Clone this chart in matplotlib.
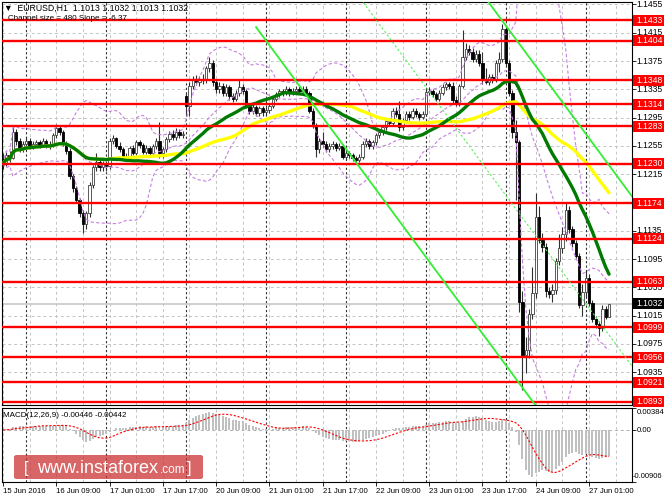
import numpy as np
import pandas as pd
import matplotlib
matplotlib.use('Agg')
import matplotlib.pyplot as plt
from matplotlib.patches import Rectangle, FancyBboxPatch

plt.rcParams['font.family'] = ['Liberation Sans', 'DejaVu Sans']

# EURUSD H1 candles, 15 Jun 17:00 .. 27 Jun 07:00
opens = [1.1236, 1.1230, 1.1242, 1.1238, 1.1275, 1.1262, 1.1250, 1.1258, 1.1262, 1.1255,
         1.1258, 1.1260, 1.1257, 1.1262, 1.1258, 1.1255, 1.1270, 1.1280, 1.1274, 1.1258,
         1.1248, 1.1212, 1.1195, 1.1178, 1.1160, 1.1145, 1.1160, 1.1200, 1.1225, 1.1232,
         1.1225, 1.1230, 1.1226, 1.1262, 1.1266, 1.1255, 1.1250, 1.1240, 1.1238, 1.1252,
         1.1245, 1.1260, 1.1256, 1.1247, 1.1252, 1.1245, 1.1255, 1.1262, 1.1245, 1.1250,
         1.1265, 1.1272, 1.1268, 1.1275, 1.1270, 1.1325, 1.1312, 1.1340, 1.1350, 1.1345,
         1.1350, 1.1348, 1.1365, 1.1372, 1.1345, 1.1335, 1.1340, 1.1330, 1.1338, 1.1325,
         1.1322, 1.1330, 1.1338, 1.1332, 1.1312, 1.1305, 1.1310, 1.1302, 1.1308, 1.1303,
         1.1306, 1.1312, 1.1322, 1.1328, 1.1332, 1.1330, 1.1335, 1.1330, 1.1333, 1.1336,
         1.1332, 1.1336, 1.1330, 1.1305, 1.1285, 1.1250, 1.1262, 1.1258, 1.1250, 1.1255,
         1.1258, 1.1252, 1.1255, 1.1240, 1.1245, 1.1242, 1.1238, 1.1235, 1.1240, 1.1258,
         1.1262, 1.1255, 1.1260, 1.1270, 1.1275, 1.1282, 1.1290, 1.1288, 1.1305, 1.1300,
         1.1282, 1.1292, 1.1300, 1.1296, 1.1305, 1.1300, 1.1296, 1.1300, 1.1331, 1.1333,
         1.1328, 1.1322, 1.1330, 1.1338, 1.1342, 1.1340, 1.1320, 1.1315, 1.1340, 1.1380,
         1.1392, 1.1388, 1.1378, 1.1385, 1.1372, 1.1350, 1.1345, 1.1352, 1.1350, 1.1372,
         1.1378, 1.1420, 1.1372, 1.1330, 1.1275, 1.1260, 1.1035, 1.0960, 1.0966, 1.1018,
         1.1047, 1.1155, 1.1122, 1.1112, 1.1050, 1.1046, 1.1052, 1.1092, 1.1110, 1.1130,
         1.1164, 1.1138, 1.1118, 1.1100, 1.1030, 1.1048, 1.1068, 1.1033, 1.1010, 1.1003,
         1.0998, 1.1025, 1.1013]
highs = [1.1245, 1.1246, 1.1248, 1.1283, 1.1279, 1.1266, 1.1262, 1.1268, 1.1266, 1.1262,
         1.1264, 1.1263, 1.1266, 1.1265, 1.1262, 1.1273, 1.1286, 1.1284, 1.1277, 1.1262,
         1.1252, 1.1216, 1.1199, 1.1182, 1.1164, 1.1163, 1.1204, 1.1228, 1.1245, 1.1236,
         1.1234, 1.1233, 1.1266, 1.1270, 1.1268, 1.1260, 1.1254, 1.1245, 1.1255, 1.1256,
         1.1263, 1.1264, 1.1259, 1.1256, 1.1255, 1.1258, 1.1266, 1.1289, 1.1254, 1.1268,
         1.1276, 1.1278, 1.1280, 1.1279, 1.1276, 1.1330, 1.1345, 1.1354, 1.1355, 1.1354,
         1.1356, 1.1368, 1.1380, 1.1376, 1.1349, 1.1345, 1.1344, 1.1342, 1.1341, 1.1330,
         1.1334, 1.1350, 1.1342, 1.1336, 1.1316, 1.1314, 1.1313, 1.1312, 1.1311, 1.1310,
         1.1316, 1.1326, 1.1331, 1.1336, 1.1335, 1.1339, 1.1338, 1.1337, 1.1340, 1.1339,
         1.1340, 1.1339, 1.1333, 1.1309, 1.1288, 1.1266, 1.1275, 1.1262, 1.1259, 1.1262,
         1.1261, 1.1259, 1.1258, 1.1249, 1.1248, 1.1245, 1.1241, 1.1243, 1.1262, 1.1266,
         1.1265, 1.1263, 1.1273, 1.1278, 1.1285, 1.1294, 1.1294, 1.1309, 1.1310, 1.1318,
         1.1295, 1.1304, 1.1304, 1.1309, 1.1308, 1.1303, 1.1304, 1.1336, 1.1338, 1.1336,
         1.1331, 1.1334, 1.1342, 1.1346, 1.1346, 1.1346, 1.1326, 1.1343, 1.1419, 1.1400,
         1.1398, 1.1393, 1.1390, 1.1390, 1.1388, 1.1365, 1.1356, 1.1356, 1.1376, 1.1388,
         1.1428, 1.1424, 1.1376, 1.1334, 1.1292, 1.1264, 1.1050, 1.0985, 1.1025, 1.1084,
         1.1188, 1.1170, 1.1132, 1.1118, 1.1056, 1.1060, 1.1096, 1.1130, 1.1140, 1.1176,
         1.1170, 1.1142, 1.1122, 1.1104, 1.1060, 1.1078, 1.1074, 1.1037, 1.1014, 1.1008,
         1.1030, 1.1029, 1.1032]
lows = [1.1222, 1.1226, 1.1232, 1.1236, 1.1256, 1.1246, 1.1247, 1.1254, 1.1250, 1.1250,
        1.1254, 1.1252, 1.1254, 1.1252, 1.1250, 1.1253, 1.1266, 1.1270, 1.1255, 1.1244,
        1.1208, 1.1190, 1.1174, 1.1155, 1.1132, 1.1138, 1.1155, 1.1196, 1.1220, 1.1220,
        1.1220, 1.1220, 1.1222, 1.1258, 1.1252, 1.1246, 1.1236, 1.1233, 1.1235, 1.1242,
        1.1242, 1.1252, 1.1244, 1.1244, 1.1240, 1.1242, 1.1250, 1.1238, 1.1238, 1.1246,
        1.1260, 1.1263, 1.1264, 1.1266, 1.1266, 1.1300, 1.1298, 1.1336, 1.1341, 1.1340,
        1.1343, 1.1344, 1.1360, 1.1340, 1.1330, 1.1330, 1.1326, 1.1326, 1.1320, 1.1317,
        1.1318, 1.1326, 1.1328, 1.1308, 1.1300, 1.1300, 1.1298, 1.1298, 1.1298, 1.1299,
        1.1302, 1.1309, 1.1318, 1.1324, 1.1325, 1.1327, 1.1326, 1.1327, 1.1330, 1.1328,
        1.1329, 1.1326, 1.1301, 1.1280, 1.1240, 1.1245, 1.1254, 1.1246, 1.1246, 1.1251,
        1.1248, 1.1249, 1.1236, 1.1236, 1.1238, 1.1234, 1.1232, 1.1232, 1.1237, 1.1254,
        1.1251, 1.1251, 1.1256, 1.1266, 1.1271, 1.1278, 1.1283, 1.1285, 1.1296, 1.1276,
        1.1278, 1.1288, 1.1291, 1.1293, 1.1296, 1.1292, 1.1293, 1.1297, 1.1327, 1.1324,
        1.1318, 1.1319, 1.1327, 1.1334, 1.1336, 1.1316, 1.1312, 1.1312, 1.1337, 1.1376,
        1.1383, 1.1374, 1.1374, 1.1368, 1.1342, 1.1342, 1.1341, 1.1344, 1.1346, 1.1360,
        1.1374, 1.1368, 1.1326, 1.1266, 1.1179, 1.1020, 1.0910, 1.0934, 1.0955, 1.1010,
        1.1040, 1.1118, 1.1105, 1.1042, 1.1040, 1.1035, 1.1045, 1.1086, 1.1104, 1.1120,
        1.1132, 1.1112, 1.1095, 1.1026, 1.1015, 1.1042, 1.1028, 1.1006, 1.0998, 1.0986,
        1.0994, 1.1010, 1.1013]
closes = [1.1230, 1.1242, 1.1238, 1.1275, 1.1262, 1.1250, 1.1258, 1.1262, 1.1255, 1.1258,
          1.1260, 1.1257, 1.1262, 1.1258, 1.1255, 1.1270, 1.1280, 1.1274, 1.1258, 1.1248,
          1.1212, 1.1195, 1.1178, 1.1160, 1.1145, 1.1160, 1.1200, 1.1225, 1.1232, 1.1225,
          1.1230, 1.1226, 1.1262, 1.1266, 1.1255, 1.1250, 1.1240, 1.1238, 1.1252, 1.1245,
          1.1260, 1.1256, 1.1247, 1.1252, 1.1245, 1.1255, 1.1262, 1.1245, 1.1250, 1.1265,
          1.1272, 1.1268, 1.1275, 1.1270, 1.1272, 1.1312, 1.1340, 1.1350, 1.1345, 1.1350,
          1.1348, 1.1365, 1.1372, 1.1345, 1.1335, 1.1340, 1.1330, 1.1338, 1.1325, 1.1322,
          1.1330, 1.1338, 1.1332, 1.1312, 1.1305, 1.1310, 1.1302, 1.1308, 1.1303, 1.1306,
          1.1312, 1.1322, 1.1328, 1.1332, 1.1330, 1.1335, 1.1330, 1.1333, 1.1336, 1.1332,
          1.1336, 1.1330, 1.1305, 1.1285, 1.1250, 1.1262, 1.1258, 1.1250, 1.1255, 1.1258,
          1.1252, 1.1255, 1.1240, 1.1245, 1.1242, 1.1238, 1.1235, 1.1240, 1.1258, 1.1262,
          1.1255, 1.1260, 1.1270, 1.1275, 1.1282, 1.1290, 1.1288, 1.1305, 1.1300, 1.1282,
          1.1292, 1.1300, 1.1296, 1.1305, 1.1300, 1.1296, 1.1300, 1.1331, 1.1333, 1.1328,
          1.1322, 1.1330, 1.1338, 1.1342, 1.1340, 1.1320, 1.1315, 1.1340, 1.1380, 1.1392,
          1.1388, 1.1378, 1.1385, 1.1372, 1.1350, 1.1345, 1.1352, 1.1350, 1.1372, 1.1378,
          1.1420, 1.1372, 1.1330, 1.1275, 1.1260, 1.1035, 1.0960, 1.0966, 1.1018, 1.1047,
          1.1155, 1.1122, 1.1112, 1.1050, 1.1046, 1.1052, 1.1092, 1.1110, 1.1130, 1.1164,
          1.1138, 1.1118, 1.1100, 1.1030, 1.1048, 1.1068, 1.1033, 1.1010, 1.1003, 1.0998,
          1.1025, 1.1013, 1.1032]

# horizontal support / resistance levels
levels = [1.1433, 1.1404, 1.1348, 1.1314, 1.1283, 1.1230, 1.1174,
          1.1124, 1.1063, 1.0999, 1.0956, 1.0921, 1.0893]
last_price = 1.1032
price_ticks = [1.1455, 1.1415, 1.1375, 1.1335, 1.1295, 1.1255, 1.1215,
               1.1175, 1.1135, 1.1095, 1.1055, 1.1015, 1.0975, 1.0935]

date_bars = [0, 16, 32, 48, 64, 80, 96, 112, 128, 144, 160, 176]
date_labels = ['15 Jun 2016', '16 Jun 09:00', '17 Jun 01:00', '17 Jun 17:00',
               '20 Jun 09:00', '21 Jun 01:00', '21 Jun 17:00', '22 Jun 09:00',
               '23 Jun 01:00', '23 Jun 17:00', '24 Jun 09:00', '27 Jun 01:00']
day_starts = [7, 31, 55, 79, 103, 127, 151, 175]
grid_bars = [0, 8, 16, 24, 32, 40, 48, 56, 64, 72, 80, 88, 96, 104, 112, 120,
             128, 136, 144, 152, 160, 168, 176, 184]

# equidistant channel: size 480 points, slope -6.37 points per bar
channel_size = 0.0480
channel_slope = -0.000637
channel_top_at0 = 1.2387
channel_start = 76

macd_top, macd_bottom = 0.00384, -0.00906

# indicators
s = pd.Series(closes)
ma_fast = s.rolling(30, min_periods=1).mean()
ma_slow = s.rolling(50, min_periods=1).mean()
bb_mid = s.rolling(20, min_periods=1).mean()
bb_dev = s.rolling(20, min_periods=1).std(ddof=0)
macd = s.ewm(span=12, adjust=False).mean() - s.ewm(span=26, adjust=False).mean()
signal = macd.rolling(9, min_periods=1).mean()

W, H = 664, 498
fig = plt.figure(figsize=(W / 100, H / 100), dpi=100)
ax = fig.add_axes([2 / W, (H - 405) / H, 630 / W, 403 / H])
ax2 = fig.add_axes([2 / W, (H - 482) / H, 630 / W, 74 / H])

x = np.arange(len(closes))
xmin, xmax = -0.3, 188.9
for a in (ax, ax2):
    a.set_xlim(xmin, xmax)
    for b in grid_bars:
        a.axvline(b, color='#c4c4c4', lw=0.7, ls=(0, (3, 3)), zorder=0.5)
    for b in day_starts:
        a.axvline(b, color='#303030', lw=0.8, ls=(0, (2, 2)), zorder=0.6)
    for sp in a.spines.values():
        sp.set_linewidth(0.8)
        sp.set_color('black')

ax.set_ylim(1.088875, 1.145845)
for p in price_ticks:
    ax.axhline(p, color='#c4c4c4', lw=0.7, ls=(0, (3, 3)), zorder=0.5)
ax.axhline(last_price, color='#c8c8c8', lw=1.2, zorder=0.8)

# candles
o = np.array(opens); c = np.array(closes)
up = c >= o
ax.vlines(x, lows, highs, color='#303030', lw=0.8, zorder=2)
ax.bar(x[up], np.maximum(c - o, 0.00003)[up], bottom=o[up], width=0.7,
       color='white', edgecolor='#404040', lw=0.6, zorder=2.1)
ax.bar(x[~up], (o - c)[~up], bottom=c[~up], width=0.7,
       color='black', edgecolor='black', lw=0.6, zorder=2.1)

# bollinger bands
for band in (bb_mid + 2 * bb_dev, bb_mid, bb_mid - 2 * bb_dev):
    ax.plot(x, band, color='#c77fe0', lw=0.8, ls=(0, (3, 2)), zorder=2.5)

ax.plot(x, ma_slow, color='#ffff00', lw=2.4, zorder=3, solid_capstyle='round')
ax.plot(x, ma_fast, color='#007a00', lw=2.4, zorder=3.1, solid_capstyle='round')

for lv in levels:
    ax.axhline(lv, color='#ff0000', lw=1.7, zorder=3.5)

# channel
cx = np.array([channel_start, xmax])
top = channel_top_at0 + channel_slope * cx
ax.plot(cx, top, color='#33ee33', lw=1.3, zorder=3.6)
ax.plot(cx, top - channel_size, color='#33ee33', lw=1.3, zorder=3.6)
ax.plot(cx, top - channel_size / 2, color='#55ee55', lw=0.8, ls=(0, (2, 2)), zorder=3.6)

# right price scale
ax.yaxis.tick_right()
ax.set_yticks(price_ticks)
ax.set_yticklabels([])
ax.tick_params(axis='y', length=3, width=0.6)
ax.set_xticks([])
ytr = ax.get_yaxis_transform()
fs_price = 6.2
for p in price_ticks:
    ax.text(1.0075, p, f'{p:.4f}', transform=ytr, fontsize=fs_price, va='center',
            ha='left', clip_on=False, zorder=1)
box_w = 31 / 630
box_h = 11 / 7074
for lv in levels:
    ax.add_patch(Rectangle((1.0016, lv - box_h / 2), box_w, box_h, transform=ytr,
                           facecolor='#ff0000', edgecolor='none', clip_on=False, zorder=6))
    ax.text(1.0075, lv, f'{lv:.4f}', transform=ytr, fontsize=fs_price, va='center',
            ha='left', color='white', clip_on=False, zorder=7)
ax.add_patch(Rectangle((1.0016, last_price - box_h / 2), box_w, box_h, transform=ytr,
                       facecolor='black', edgecolor='none', clip_on=False, zorder=6))
ax.text(1.0075, last_price, f'{last_price:.4f}', transform=ytr, fontsize=fs_price,
        va='center', ha='left', color='white', clip_on=False, zorder=7)

# MACD panel
ax2.set_ylim(macd_bottom, macd_top)
ax2.axhline(0, color='#b0b0b0', lw=0.7, ls=(0, (3, 3)), zorder=0.5)
ax2.bar(x, macd, width=0.6, color='#c0c0c0', zorder=2)
ax2.plot(x, signal, color='#ff0000', lw=0.8, ls=(0, (2, 1.5)), zorder=3)
ax2.yaxis.tick_right()
ax2.set_yticks([macd_top, 0, macd_bottom])
ax2.set_yticklabels([])
ax2.tick_params(axis='y', length=3, width=0.6)
ytr2 = ax2.get_yaxis_transform()
ax2.text(1.0075, 0.985, f'{macd_top:.5f}', transform=ax2.transAxes, fontsize=5.6,
         va='top', ha='left', clip_on=False)
ax2.text(1.0075, 0, '0.00', transform=ytr2, fontsize=5.6, va='center', ha='left', clip_on=False)
ax2.text(1.0016, 0.03, f'{macd_bottom:.5f}', transform=ax2.transAxes, fontsize=5.4,
         va='bottom', ha='left', clip_on=False)
ax2.set_xticks(date_bars)
ax2.set_xticklabels(date_labels, ha='left', fontsize=5.6)
ax2.tick_params(axis='x', length=3, width=0.6, pad=1.5)

# header texts
fig.text(4 / W, (H - 8) / H, '\u25bc  EURUSD,H1  1.1013 1.1032 1.1013 1.1032',
         fontsize=6.3, va='center', ha='left')
fig.text(8 / W, (H - 19) / H, 'Channel size = 480 Slope = -6.37',
         fontsize=5.8, va='center', ha='left')
fig.text(3 / W, (H - 415) / H, 'MACD(12,26,9) -0.00446 -0.00442',
         fontsize=5.8, va='center', ha='left')

# watermark
fig.patches.append(FancyBboxPatch((14 / W, (H - 479) / H), 189 / W, 24 / H,
                                  boxstyle='round,pad=0,rounding_size=0.004',
                                  transform=fig.transFigure, facecolor='#cc3333',
                                  edgecolor='none', alpha=0.75, zorder=5))
yb = (H - 473) / H
fig.text(24 / W, yb, '[', fontsize=12, color='white', va='baseline', zorder=6)
fig.text(37 / W, yb, 'www.instaforex', fontsize=13, color='white', va='baseline', zorder=6)
fig.text(160 / W, yb, '.com', fontsize=8.5, color='white', va='baseline', zorder=6)
fig.text(187 / W, yb, ']', fontsize=12, color='white', va='baseline', zorder=6)

fig.savefig('out.png', dpi=100)
